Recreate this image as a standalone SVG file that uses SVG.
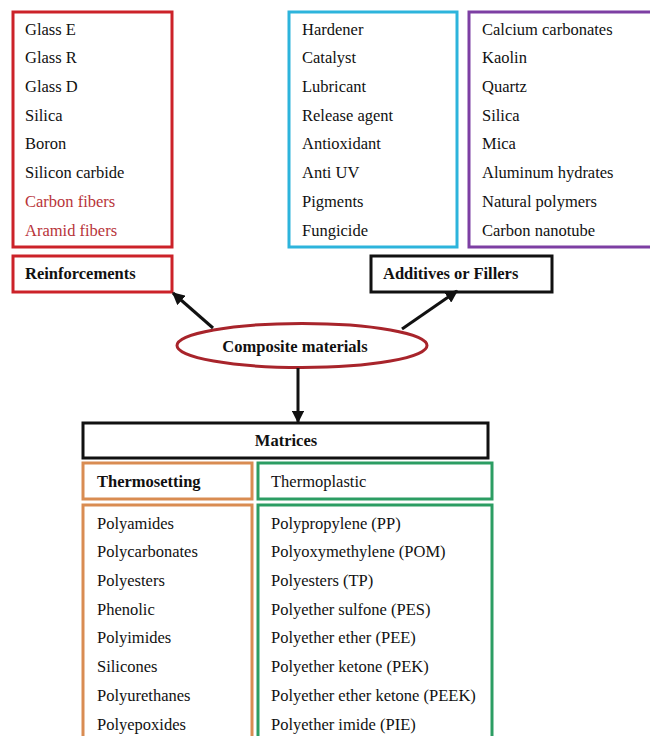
<svg xmlns="http://www.w3.org/2000/svg" width="650" height="736" viewBox="0 0 650 736">
<style>
text{font-family:'Liberation Serif','Times New Roman',serif;font-size:16.5px;fill:#111}
.b{font-weight:bold}
.box{fill:none;stroke-width:3}
.red{stroke:#cc2229}
.cyan{stroke:#2db4dc}
.pur{stroke:#7d3fa3}
.blk{stroke:#111}
.org{stroke:#d98c52}
.grn{stroke:#2c9d63}
.rt{fill:#b8343a}
.conn{stroke:#111;stroke-width:3;fill:none;marker-end:url(#ah)}
</style>
<defs>
<marker id="ah" viewBox="0 0 10 10" refX="9" refY="5" markerWidth="4.2" markerHeight="4.2" orient="auto" markerUnits="strokeWidth">
<path d="M0,0 L10,5 L0,10 z" fill="#111"/>
</marker>
</defs>
<rect width="650" height="736" fill="#fff"/>
<g id="reinf-list">
<rect class="box red" x="13" y="12" width="159" height="235"/>
<text x="25" y="35">Glass E</text>
<text x="25" y="63">Glass R</text>
<text x="25" y="92">Glass D</text>
<text x="25" y="121">Silica</text>
<text x="25" y="149">Boron</text>
<text x="25" y="178">Silicon carbide</text>
<text x="25" y="207" class="rt">Carbon fibers</text>
<text x="25" y="236" class="rt">Aramid fibers</text>
</g>
<g id="reinforcements">
<rect class="box red" x="13" y="256" width="159" height="36"/>
<text x="25" y="279" class="b">Reinforcements</text>
</g>
<g id="additives-list">
<rect class="box cyan" x="289" y="12" width="168" height="235"/>
<text x="302" y="35">Hardener</text>
<text x="302" y="63">Catalyst</text>
<text x="302" y="92">Lubricant</text>
<text x="302" y="121">Release agent</text>
<text x="302" y="149">Antioxidant</text>
<text x="302" y="178">Anti UV</text>
<text x="302" y="207">Pigments</text>
<text x="302" y="236">Fungicide</text>
</g>
<g id="fillers-list">
<rect class="box pur" x="469" y="12" width="185" height="235"/>
<text x="482" y="35">Calcium carbonates</text>
<text x="482" y="63">Kaolin</text>
<text x="482" y="92">Quartz</text>
<text x="482" y="121">Silica</text>
<text x="482" y="149">Mica</text>
<text x="482" y="178">Aluminum hydrates</text>
<text x="482" y="207">Natural polymers</text>
<text x="482" y="236">Carbon nanotube</text>
</g>
<g id="additives">
<rect class="box blk" x="371" y="256" width="181" height="36"/>
<text x="383" y="279" class="b">Additives or Fillers</text>
</g>
<g id="composite">
<ellipse cx="302" cy="345.5" rx="125" ry="22" fill="none" stroke="#a8242b" stroke-width="3"/>
<text x="295" y="352" class="b" text-anchor="middle">Composite materials</text>
</g>
<g id="matrices">
<rect class="box blk" x="83" y="423" width="405" height="35"/>
<text x="286" y="446" class="b" text-anchor="middle">Matrices</text>
</g>
<g id="thermosetting">
<rect class="box org" x="83" y="463" width="169" height="36"/>
<text x="97" y="487" class="b">Thermosetting</text>
</g>
<g id="thermoplastic">
<rect class="box grn" x="258" y="463" width="234" height="36"/>
<text x="271" y="487">Thermoplastic</text>
</g>
<g id="thermosetting-list">
<rect class="box org" x="83" y="505" width="169" height="240"/>
<text x="97" y="529">Polyamides</text>
<text x="97" y="557">Polycarbonates</text>
<text x="97" y="586">Polyesters</text>
<text x="97" y="615">Phenolic</text>
<text x="97" y="643">Polyimides</text>
<text x="97" y="672">Silicones</text>
<text x="97" y="701">Polyurethanes</text>
<text x="97" y="730">Polyepoxides</text>
</g>
<g id="thermoplastic-list">
<rect class="box grn" x="258" y="505" width="234" height="240"/>
<text x="271" y="529">Polypropylene (PP)</text>
<text x="271" y="557">Polyoxymethylene (POM)</text>
<text x="271" y="586">Polyesters (TP)</text>
<text x="271" y="615">Polyether sulfone (PES)</text>
<text x="271" y="643">Polyether ether (PEE)</text>
<text x="271" y="672">Polyether ketone (PEK)</text>
<text x="271" y="701">Polyether ether ketone (PEEK)</text>
<text x="271" y="730">Polyether imide (PIE)</text>
</g>
<g id="connectors">
<line class="conn" x1="213" y1="328" x2="173" y2="293"/>
<line class="conn" x1="402" y1="329" x2="457" y2="291"/>
<line class="conn" x1="298" y1="368" x2="298" y2="422"/>
</g>
</svg>
